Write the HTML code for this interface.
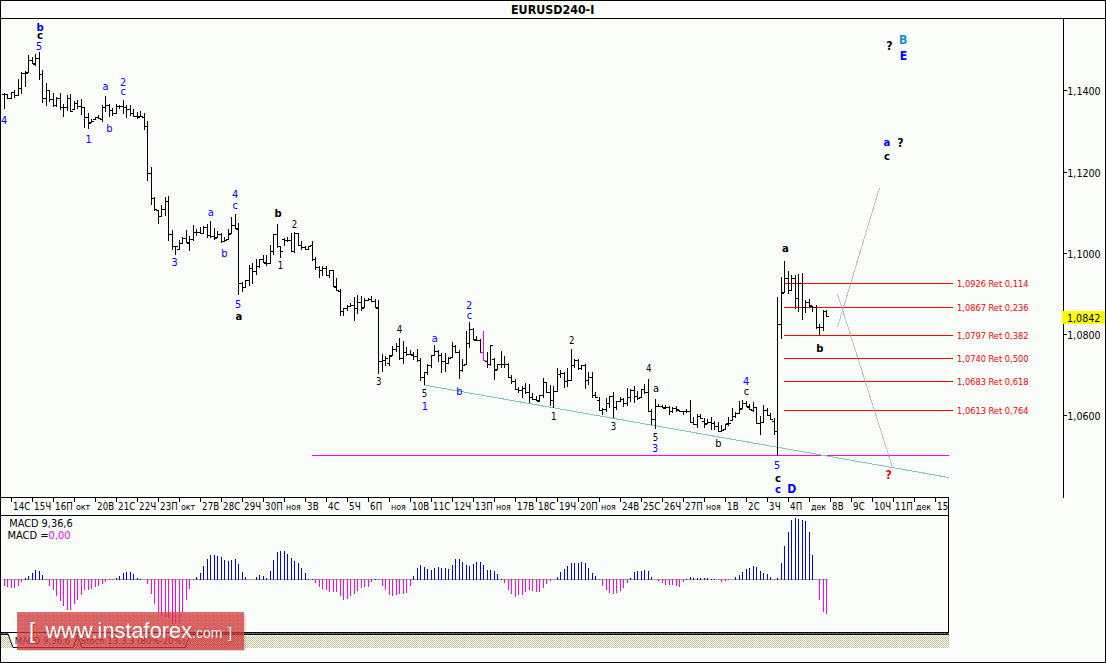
<!DOCTYPE html>
<html><head><meta charset="utf-8"><title>EURUSD240-I</title>
<style>
html,body{margin:0;padding:0;background:#fbfdfa;}
svg{display:block}
text{font-family:'DejaVu Sans Condensed','DejaVu Sans',sans-serif;}
.ax{font-size:10.6px;fill:#000}
.dt{font-size:9.6px;fill:#000;letter-spacing:0.15px}
.mo{font-size:8.8px;letter-spacing:0}
.fib{font-size:9.2px;fill:#ff0000}
.wr{font-size:11px;text-anchor:middle}
.wd{font-size:9.6px;text-anchor:middle}
.wdb{font-size:10.8px;text-anchor:middle}
.wb{font-size:11.2px;font-weight:bold;text-anchor:middle}
.wbc{font-size:12.2px;font-weight:bold;text-anchor:middle}
.title{font-size:12.35px;font-weight:bold;text-anchor:middle;fill:#000}
.mh{font-size:11px;fill:#000}
.tab{font-size:9.5px}
.tab2{font-size:9.5px}
.wm{font-family:'Liberation Sans',sans-serif;font-size:21.8px}
.wms{font-size:14px}
.wms2{font-family:'Liberation Sans',sans-serif;font-size:15px}
</style></head>
<body>
<svg width="1106" height="663" viewBox="0 0 1106 663" shape-rendering="crispEdges">
<defs>
<pattern id="hatch" x="0" y="0" width="6" height="6" patternUnits="userSpaceOnUse"><rect width="6" height="6" fill="#ffffff"/><rect x="0" y="0" width="1" height="1" fill="#bccb8c"/><rect x="2" y="0" width="1" height="1" fill="#bccb8c"/><rect x="4" y="0" width="1" height="1" fill="#bccb8c"/><rect x="1" y="1" width="1" height="1" fill="#bccb8c"/><rect x="3" y="1" width="1" height="1" fill="#d9a6a2"/><rect x="5" y="1" width="1" height="1" fill="#bccb8c"/><rect x="0" y="2" width="1" height="1" fill="#d9a6a2"/><rect x="2" y="2" width="1" height="1" fill="#bccb8c"/><rect x="4" y="2" width="1" height="1" fill="#bccb8c"/><rect x="1" y="3" width="1" height="1" fill="#bccb8c"/><rect x="3" y="3" width="1" height="1" fill="#bccb8c"/><rect x="5" y="3" width="1" height="1" fill="#bccb8c"/><rect x="0" y="4" width="1" height="1" fill="#bccb8c"/><rect x="2" y="4" width="1" height="1" fill="#bccb8c"/><rect x="4" y="4" width="1" height="1" fill="#d9a6a2"/><rect x="1" y="5" width="1" height="1" fill="#d9a6a2"/><rect x="3" y="5" width="1" height="1" fill="#bccb8c"/><rect x="5" y="5" width="1" height="1" fill="#bccb8c"/></pattern>
<pattern id="dotl" x="0" y="0" width="4" height="1" patternUnits="userSpaceOnUse">
<rect width="4" height="1" fill="#725572"/><rect x="0" width="1" height="1" fill="#5f9a5f"/>
</pattern>
<pattern id="dotz" x="0" y="0" width="2" height="1" patternUnits="userSpaceOnUse">
<rect width="1" height="1" fill="#b39a9a"/><rect x="1" width="1" height="1" fill="#9cb08c"/>
</pattern>
<pattern id="wmdots" x="17" y="612" width="4" height="4" patternUnits="userSpaceOnUse">
<rect x="2" y="2" width="1" height="1" fill="#ffffff" opacity="0.15"/>
</pattern>
</defs>
<rect x="0" y="0" width="1106" height="663" fill="#fbfdfa"/>
<rect x="1" y="1" width="1104" height="1" fill="#fff"/>
<rect x="1" y="1" width="1" height="661" fill="#fff"/>
<rect x="1104" y="1" width="1" height="661" fill="#fff"/>
<rect x="1" y="661" width="1104" height="1" fill="#fff"/>
<rect x="1" y="17" width="1104" height="1" fill="#fff"/>
<rect x="1" y="19" width="1104" height="1" fill="#fff"/>
<rect x="1062" y="19" width="1" height="479" fill="#fff"/>
<rect x="1064" y="19" width="1" height="479" fill="#fff"/>
<rect x="0" y="0" width="1106" height="1" fill="#000"/>
<rect x="0" y="662" width="1106" height="1" fill="#000"/>
<rect x="0" y="0" width="1" height="663" fill="#000"/>
<rect x="1105" y="0" width="1" height="663" fill="#000"/>
<rect x="0" y="18" width="1106" height="1" fill="#000"/>
<rect x="1063" y="18" width="1" height="480" fill="#000"/>
<rect x="1" y="496" width="948" height="1" fill="#fff"/>
<rect x="1" y="498" width="948" height="1" fill="#fff"/>
<rect x="1" y="497" width="948" height="1" fill="#000"/>
<rect x="11" y="498" width="1" height="4" fill="#000"/>
<rect x="32" y="498" width="1" height="4" fill="#000"/>
<rect x="53" y="498" width="1" height="4" fill="#000"/>
<rect x="74" y="498" width="1" height="4" fill="#000"/>
<rect x="95" y="498" width="1" height="4" fill="#000"/>
<rect x="116" y="498" width="1" height="4" fill="#000"/>
<rect x="137" y="498" width="1" height="4" fill="#000"/>
<rect x="158" y="498" width="1" height="4" fill="#000"/>
<rect x="179" y="498" width="1" height="4" fill="#000"/>
<rect x="200" y="498" width="1" height="4" fill="#000"/>
<rect x="221" y="498" width="1" height="4" fill="#000"/>
<rect x="242" y="498" width="1" height="4" fill="#000"/>
<rect x="263" y="498" width="1" height="4" fill="#000"/>
<rect x="284" y="498" width="1" height="4" fill="#000"/>
<rect x="305" y="498" width="1" height="4" fill="#000"/>
<rect x="326" y="498" width="1" height="4" fill="#000"/>
<rect x="347" y="498" width="1" height="4" fill="#000"/>
<rect x="368" y="498" width="1" height="4" fill="#000"/>
<rect x="389" y="498" width="1" height="4" fill="#000"/>
<rect x="410" y="498" width="1" height="4" fill="#000"/>
<rect x="431" y="498" width="1" height="4" fill="#000"/>
<rect x="452" y="498" width="1" height="4" fill="#000"/>
<rect x="473" y="498" width="1" height="4" fill="#000"/>
<rect x="494" y="498" width="1" height="4" fill="#000"/>
<rect x="515" y="498" width="1" height="4" fill="#000"/>
<rect x="536" y="498" width="1" height="4" fill="#000"/>
<rect x="557" y="498" width="1" height="4" fill="#000"/>
<rect x="578" y="498" width="1" height="4" fill="#000"/>
<rect x="599" y="498" width="1" height="4" fill="#000"/>
<rect x="620" y="498" width="1" height="4" fill="#000"/>
<rect x="641" y="498" width="1" height="4" fill="#000"/>
<rect x="662" y="498" width="1" height="4" fill="#000"/>
<rect x="683" y="498" width="1" height="4" fill="#000"/>
<rect x="704" y="498" width="1" height="4" fill="#000"/>
<rect x="725" y="498" width="1" height="4" fill="#000"/>
<rect x="746" y="498" width="1" height="4" fill="#000"/>
<rect x="767" y="498" width="1" height="4" fill="#000"/>
<rect x="788" y="498" width="1" height="4" fill="#000"/>
<rect x="809" y="498" width="1" height="4" fill="#000"/>
<rect x="830" y="498" width="1" height="4" fill="#000"/>
<rect x="851" y="498" width="1" height="4" fill="#000"/>
<rect x="872" y="498" width="1" height="4" fill="#000"/>
<rect x="893" y="498" width="1" height="4" fill="#000"/>
<rect x="914" y="498" width="1" height="4" fill="#000"/>
<rect x="935" y="498" width="1" height="4" fill="#000"/>
<rect x="1" y="514" width="948" height="1" fill="#fff"/>
<rect x="1" y="516" width="947" height="1" fill="#fff"/>
<rect x="947" y="516" width="1" height="116" fill="#fff"/>
<rect x="1" y="631" width="947" height="1" fill="#fff"/>
<rect x="1" y="515" width="948" height="1" fill="#000"/>
<rect x="948" y="497" width="1" height="19" fill="#000"/>
<rect x="948" y="515" width="1" height="120" fill="#000"/>
<rect x="1" y="632" width="948" height="1" fill="#000"/>
<rect x="1" y="633" width="948" height="1" fill="url(#dotl)"/>
<rect x="1" y="634" width="948" height="1" fill="#000"/>
<rect x="1" y="635" width="948" height="13" fill="url(#hatch)"/>
<rect x="1" y="635" width="947" height="1" fill="#fff" opacity="0.6"/>
<rect x="1064" y="90" width="3" height="1" fill="#000"/>
<text x="1067.3" y="94.5" class="ax">1,1400</text>
<rect x="1064" y="172" width="3" height="1" fill="#000"/>
<text x="1067.3" y="176.5" class="ax">1,1200</text>
<rect x="1064" y="253" width="3" height="1" fill="#000"/>
<text x="1067.3" y="257.5" class="ax">1,1000</text>
<rect x="1064" y="334" width="3" height="1" fill="#000"/>
<text x="1067.3" y="338.5" class="ax">1,0800</text>
<rect x="1064" y="415" width="3" height="1" fill="#000"/>
<text x="1067.3" y="419.5" class="ax">1,0600</text>
<rect x="1062" y="311" width="43" height="13" fill="#ffff00"/>
<text x="1067" y="321.7" class="ax">1,0842</text>
<svg x="0" y="0" width="948" height="515" overflow="hidden">
<text x="13" y="510" class="dt">14С</text>
<text x="34" y="510" class="dt">15Ч</text>
<text x="55" y="510" class="dt">16П</text>
<text x="76" y="510" class="dt mo">окт</text>
<text x="97" y="510" class="dt">20В</text>
<text x="118" y="510" class="dt">21С</text>
<text x="139" y="510" class="dt">22Ч</text>
<text x="160" y="510" class="dt">23П</text>
<text x="181" y="510" class="dt mo">окт</text>
<text x="202" y="510" class="dt">27В</text>
<text x="223" y="510" class="dt">28С</text>
<text x="244" y="510" class="dt">29Ч</text>
<text x="265" y="510" class="dt">30П</text>
<text x="286" y="510" class="dt mo">ноя</text>
<text x="307" y="510" class="dt">3В</text>
<text x="328" y="510" class="dt">4С</text>
<text x="349" y="510" class="dt">5Ч</text>
<text x="370" y="510" class="dt">6П</text>
<text x="391" y="510" class="dt mo">ноя</text>
<text x="412" y="510" class="dt">10В</text>
<text x="433" y="510" class="dt">11С</text>
<text x="454" y="510" class="dt">12Ч</text>
<text x="475" y="510" class="dt">13П</text>
<text x="496" y="510" class="dt mo">ноя</text>
<text x="517" y="510" class="dt">17В</text>
<text x="538" y="510" class="dt">18С</text>
<text x="559" y="510" class="dt">19Ч</text>
<text x="580" y="510" class="dt">20П</text>
<text x="601" y="510" class="dt mo">ноя</text>
<text x="622" y="510" class="dt">24В</text>
<text x="643" y="510" class="dt">25С</text>
<text x="664" y="510" class="dt">26Ч</text>
<text x="685" y="510" class="dt">27П</text>
<text x="706" y="510" class="dt mo">ноя</text>
<text x="727" y="510" class="dt">1В</text>
<text x="748" y="510" class="dt">2С</text>
<text x="769" y="510" class="dt">3Ч</text>
<text x="790" y="510" class="dt">4П</text>
<text x="811" y="510" class="dt mo">дек</text>
<text x="832" y="510" class="dt">8В</text>
<text x="853" y="510" class="dt">9С</text>
<text x="874" y="510" class="dt">10Ч</text>
<text x="895" y="510" class="dt">11П</text>
<text x="916" y="510" class="dt mo">дек</text>
<text x="937" y="510" class="dt">15В</text>
</svg>
<svg x="1" y="19" width="1062" height="478" viewBox="1 19 1062 478" overflow="hidden">
<rect x="312" y="455" width="637" height="1" fill="#ff00ff"/>
<line x1="424" y1="385" x2="949" y2="477.5" stroke="#80c8bc" stroke-width="1"/>
<rect x="784" y="283" width="169" height="1" fill="#ff0000"/>
<rect x="784" y="307" width="169" height="1" fill="#ff0000"/>
<rect x="784" y="335" width="169" height="1" fill="#ff0000"/>
<rect x="784" y="358" width="169" height="1" fill="#ff0000"/>
<rect x="784" y="381" width="169" height="1" fill="#ff0000"/>
<rect x="784" y="410" width="169" height="1" fill="#ff0000"/>
<line x1="837.5" y1="327" x2="879.5" y2="188" stroke="#c4bcc6" stroke-width="1"/>
<line x1="837.5" y1="294" x2="892.5" y2="467.5" stroke="#c4bcc6" stroke-width="1"/>
<path d="M4.5 93V109M2 94.5H4M5 94.5H7M7.5 94V99M5 94.5H7M8 98.5H10M11.5 92V99M9 98.5H11M12 92.5H14M14.5 90V98M12 92.5H14M15 95.5H17M18.5 79V96M16 95.5H18M19 88.5H21M21.5 72V94M19 88.5H21M22 73.5H24M25.5 71V87M23 73.5H25M26 73.5H28M28.5 55V73M26 72.5H28M29 60.5H31M32.5 57V64M30 60.5H32M33 63.5H35M35.5 54V66M33 64.5H35M36 58.5H38M39.5 52V80M37 58.5H39M40 74.5H42M42.5 70V103M40 74.5H42M43 98.5H45M46.5 83V106M44 98.5H46M47 90.5H49M49.5 90V102M47 90.5H49M50 99.5H52M53.5 93V107M51 99.5H53M54 105.5H56M56.5 97V107M54 105.5H56M57 98.5H59M60.5 93V110M58 98.5H60M61 107.5H63M63.5 104V117M61 107.5H63M64 107.5H66M67.5 95V111M65 107.5H67M68 98.5H70M70.5 94V112M68 98.5H70M71 111.5H73M74.5 101V110M72 109.5H74M75 103.5H77M77.5 100V109M75 103.5H77M78 106.5H80M81.5 99V115M79 106.5H81M82 107.5H84M84.5 107V128M82 107.5H84M85 117.5H87M88.5 113V129M86 117.5H88M89 123.5H91M91.5 119V123M89 122.5H91M92 121.5H94M95.5 117V120M93 119.5H95M96 117.5H98M98.5 115V119M96 117.5H98M99 118.5H101M102.5 105V122M100 119.5H102M103 107.5H105M105.5 96V112M103 107.5H105M106 105.5H108M109.5 104V117M107 105.5H109M110 110.5H112M112.5 108V116M110 110.5H112M113 113.5H115M116.5 104V114M114 113.5H116M117 106.5H119M119.5 105V109M117 106.5H119M120 106.5H122M123.5 100V114M121 106.5H123M124 107.5H126M126.5 105V118M124 107.5H126M127 109.5H129M130.5 105V116M128 109.5H130M131 113.5H133M133.5 109V117M131 113.5H133M134 116.5H136M137.5 112V119M135 116.5H137M138 117.5H140M140.5 111V117M138 116.5H140M141 116.5H143M144.5 113V130M142 117.5H144M145 126.5H147M147.5 121V181M145 126.5H147M148 173.5H150M151.5 167V205M149 173.5H151M152 198.5H154M154.5 197V211M152 198.5H154M155 209.5H157M158.5 210V224M156 210.5H158M159 216.5H161M161.5 205V217M159 216.5H161M162 209.5H164M165.5 197V216M163 209.5H165M166 201.5H168M168.5 196V241M166 201.5H168M169 234.5H171M172.5 230V250M170 234.5H172M173 246.5H175M175.5 246V255M173 246.5H175M176 246.5H178M179.5 240V250M177 249.5H179M180 243.5H182M182.5 237V244M180 243.5H182M183 238.5H185M186.5 230V243M184 238.5H186M187 242.5H189M189.5 236V251M187 243.5H189M190 239.5H192M193.5 225V241M191 239.5H193M194 232.5H196M196.5 229V236M194 232.5H196M197 232.5H199M200.5 227V234M198 232.5H200M201 233.5H203M203.5 226V234M201 233.5H203M204 227.5H206M207.5 224V238M205 227.5H207M208 235.5H210M210.5 221V238M208 235.5H210M211 236.5H213M214.5 228V240M212 236.5H214M215 238.5H217M217.5 231V238M215 237.5H217M218 234.5H220M221.5 233V243M219 234.5H221M222 241.5H224M224.5 237V242M222 241.5H224M225 240.5H227M228.5 229V240M226 239.5H228M229 234.5H231M231.5 217V234M229 233.5H231M232 225.5H234M235.5 214V229M233 225.5H235M236 228.5H238M238.5 223V295M236 229.5H238M239 283.5H241M242.5 282V292M240 283.5H242M243 287.5H245M245.5 280V288M243 287.5H245M246 280.5H248M249.5 265V286M247 280.5H249M250 268.5H252M252.5 263V284M250 268.5H252M253 271.5H255M256.5 259V275M254 271.5H256M257 266.5H259M259.5 259V268M257 266.5H259M260 259.5H262M263.5 255V263M261 259.5H263M264 262.5H266M266.5 255V266M264 263.5H266M267 263.5H269M270.5 245V264M268 263.5H270M271 251.5H273M273.5 234V255M271 251.5H273M274 234.5H276M277.5 224V248M275 234.5H277M278 246.5H280M280.5 246V258M278 246.5H280M281 251.5H283M284.5 238V246M282 239.5H284M285 240.5H287M287.5 237V242M285 240.5H287M288 240.5H290M291.5 233V252M289 240.5H291M292 251.5H294M294.5 232V253M292 251.5H294M295 233.5H297M298.5 233V246M296 233.5H298M299 245.5H301M301.5 241V250M299 245.5H301M302 247.5H304M305.5 246V250M303 247.5H305M306 249.5H308M308.5 246V250M306 249.5H308M309 246.5H311M312.5 241V261M310 245.5H312M313 259.5H315M315.5 257V270M313 259.5H315M316 267.5H318M319.5 266V278M317 267.5H319M320 270.5H322M322.5 266V276M320 270.5H322M323 268.5H325M326.5 266V276M324 268.5H326M327 275.5H329M329.5 270V278M327 275.5H329M330 270.5H332M333.5 270V287M331 270.5H333M334 286.5H336M336.5 278V291M334 287.5H336M337 290.5H339M340.5 289V316M338 291.5H340M341 311.5H343M343.5 308V316M341 311.5H343M344 308.5H346M347.5 305V311M345 308.5H347M348 306.5H350M350.5 303V307M348 306.5H350M351 305.5H353M354.5 297V321M352 305.5H354M355 308.5H357M357.5 295V314M355 308.5H357M358 302.5H360M361.5 296V311M359 302.5H361M362 308.5H364M364.5 298V308M362 307.5H364M365 300.5H367M368.5 298V301M366 300.5H368M369 299.5H371M371.5 296V302M369 299.5H371M372 301.5H374M375.5 299V308M373 301.5H375M376 307.5H378M378.5 300V374M376 308.5H378M379 361.5H381M382.5 354V372M380 361.5H382M383 360.5H385M385.5 356V366M383 360.5H385M386 358.5H388M389.5 355V366M387 363.5H389M390 356.5H392M392.5 346V356M390 355.5H392M393 349.5H395M396.5 343V352M394 349.5H396M397 346.5H399M399.5 338V360M397 346.5H399M400 358.5H402M403.5 341V364M401 358.5H403M404 352.5H406M406.5 347V356M404 352.5H406M407 354.5H409M410.5 350V355M408 354.5H410M411 354.5H413M413.5 352V360M411 355.5H413M414 356.5H416M417.5 349V362M415 356.5H417M418 360.5H420M420.5 358V381M418 360.5H420M421 377.5H423M424.5 372V385M422 377.5H424M425 372.5H427M427.5 364V375M425 372.5H427M428 365.5H430M431.5 355V368M429 365.5H431M432 355.5H434M434.5 345V356M432 355.5H434M435 351.5H437M438.5 350V362M436 351.5H438M439 355.5H441M441.5 353V373M439 355.5H441M442 361.5H444M445.5 353V372M443 361.5H445M446 363.5H448M448.5 357V364M446 363.5H448M449 358.5H451M452.5 342V358M450 357.5H452M453 346.5H455M455.5 345V353M453 346.5H455M456 352.5H458M459.5 350V379M457 352.5H459M460 370.5H462M462.5 359V372M460 370.5H462M463 365.5H465M466.5 331V365M464 364.5H466M467 343.5H469M469.5 322V348M467 343.5H469M470 329.5H472M473.5 328V340M471 329.5H473M474 339.5H476M476.5 336V341M474 340.5H476M477 340.5H479M480.5 339V353M478 340.5H480M481 352.5H483M487.5 352V368M485 361.5H487M488 364.5H490M490.5 345V366M488 364.5H490M491 345.5H493M494.5 358V380M492 359.5H494M495 370.5H497M497.5 364V370M495 369.5H497M498 364.5H500M501.5 351V368M499 364.5H501M502 364.5H504M504.5 356V368M502 364.5H504M505 364.5H507M508.5 363V378M506 364.5H508M509 377.5H511M511.5 375V384M509 377.5H511M512 381.5H514M515.5 379V390M513 381.5H515M516 389.5H518M518.5 387V393M516 389.5H518M519 390.5H521M522.5 386V398M520 390.5H522M523 388.5H525M525.5 383V394M523 388.5H525M526 392.5H528M529.5 384V403M527 392.5H529M530 397.5H532M532.5 393V400M530 397.5H532M533 399.5H535M536.5 396V401M534 399.5H536M537 400.5H539M539.5 395V402M537 401.5H539M540 395.5H542M543.5 378V398M541 395.5H543M544 382.5H546M546.5 382V393M544 382.5H546M547 392.5H549M550.5 385V406M548 392.5H550M551 400.5H553M553.5 386V408M551 400.5H553M554 391.5H556M557.5 368V392M555 391.5H557M558 374.5H560M560.5 370V378M558 374.5H560M561 373.5H563M564.5 372V388M562 373.5H564M565 381.5H567M567.5 368V387M565 381.5H567M568 380.5H570M571.5 349V381M569 380.5H571M572 365.5H574M574.5 359V368M572 365.5H574M575 360.5H577M578.5 359V370M576 360.5H578M579 368.5H581M581.5 365V370M579 368.5H581M582 365.5H584M585.5 364V389M583 365.5H585M586 380.5H588M588.5 372V385M586 380.5H588M589 377.5H591M592.5 372V398M590 377.5H592M593 395.5H595M595.5 392V398M593 395.5H595M596 397.5H598M599.5 397V411M597 400.5H599M600 410.5H602M602.5 408V415M600 410.5H602M603 409.5H605M606.5 398V412M604 409.5H606M607 403.5H609M609.5 396V408M607 403.5H609M610 396.5H612M613.5 392V418M611 396.5H613M614 407.5H616M616.5 401V410M614 407.5H616M617 401.5H619M620.5 397V402M618 401.5H620M621 399.5H623M623.5 398V407M621 399.5H623M624 403.5H626M627.5 388V406M625 403.5H627M628 397.5H630M630.5 389V402M628 397.5H630M631 390.5H633M634.5 386V403M632 390.5H634M635 396.5H637M637.5 391V400M635 396.5H637M638 398.5H640M641.5 389V398M639 397.5H641M642 389.5H644M644.5 384V394M642 389.5H644M645 392.5H647M648.5 379V412M646 392.5H648M649 411.5H651M651.5 409V425M649 411.5H651M652 419.5H654M655.5 399V429M653 419.5H655M656 406.5H658M658.5 404V407M656 406.5H658M659 406.5H661M662.5 405V408M660 406.5H662M663 407.5H665M665.5 405V409M663 408.5H665M666 407.5H668M669.5 406V415M667 407.5H669M670 411.5H672M672.5 407V413M670 411.5H672M673 408.5H675M676.5 406V412M674 408.5H676M677 409.5H679M679.5 410V412M677 410.5H679M680 411.5H682M683.5 411V415M681 411.5H683M684 411.5H686M686.5 409V413M684 411.5H686M687 411.5H689M690.5 400V423M688 411.5H690M691 422.5H693M693.5 417V425M691 422.5H693M694 424.5H696M697.5 414V428M695 424.5H697M698 416.5H700M700.5 414V419M698 416.5H700M701 418.5H703M704.5 418V428M702 421.5H704M705 424.5H707M707.5 419V424M705 423.5H707M708 422.5H710M711.5 417V430M709 422.5H711M712 423.5H714M714.5 421V430M712 423.5H714M715 426.5H717M718.5 422V432M716 426.5H718M719 431.5H721M721.5 425V432M719 431.5H721M722 430.5H724M725.5 424V430M723 429.5H725M726 424.5H728M728.5 417V426M726 423.5H728M729 423.5H731M732.5 408V421M730 420.5H732M733 416.5H735M735.5 412V418M733 416.5H735M736 413.5H738M739.5 401V414M737 413.5H739M740 409.5H742M742.5 400V409M740 408.5H742M743 403.5H745M746.5 401V407M744 403.5H746M747 406.5H749M749.5 404V410M747 407.5H749M750 409.5H752M753.5 402V412M751 410.5H753M754 407.5H756M756.5 407V424M754 407.5H756M757 423.5H759M760.5 416V435M758 423.5H760M761 422.5H763M763.5 405V423M761 422.5H763M764 410.5H766M767.5 408V416M765 410.5H767M768 415.5H770M770.5 413V420M768 415.5H770M771 419.5H773M774.5 418V435M772 421.5H774M775 431.5H777M777.5 297V456M775 431.5H777M778 324.5H780M781.5 277V339M779 324.5H781M782 293.5H784M784.5 261V293M782 292.5H784M785 278.5H787M788.5 271V294M786 278.5H788M789 290.5H791M791.5 275V291M789 290.5H791M792 278.5H794M795.5 275V309M793 278.5H795M796 298.5H798M798.5 274V312M796 298.5H798M799 283.5H801M802.5 273V320M800 283.5H802M803 307.5H805M805.5 300V313M803 307.5H805M806 302.5H808M809.5 299V308M807 302.5H809M810 305.5H812M812.5 306V312M810 306.5H812M813 307.5H815M816.5 305V329M814 307.5H816M817 327.5H819M819.5 324V336M817 327.5H819M820 327.5H822M823.5 310V331M821 327.5H823M824 311.5H826M826.5 310V317M824 311.5H826M827 316.5H829" stroke="#000" stroke-width="1" fill="none"/>
<path d="M483.5 331V361M481 352.5H483M484 360.5H486" stroke="#ff00ff" stroke-width="1" fill="none"/>
</svg>
<text x="957" y="287" class="fib">1,0926 Ret 0,114</text>
<text x="957" y="311" class="fib">1,0867 Ret 0,236</text>
<text x="957" y="339" class="fib">1,0797 Ret 0,382</text>
<text x="957" y="362" class="fib">1,0740 Ret 0,500</text>
<text x="957" y="385" class="fib">1,0683 Ret 0,618</text>
<text x="957" y="414" class="fib">1,0613 Ret 0,764</text>
<text x="40.0" y="31" class="wb" fill="#0000ff">b</text>
<text x="40.0" y="38.8" class="wb" fill="#000">c</text>
<text x="39.0" y="50" class="wdb" fill="#0000ff">5</text>
<text x="4.1" y="124" class="wdb" fill="#0000ff">4</text>
<text x="105.5" y="90" class="wr" fill="#0000ff">a</text>
<text x="123" y="86" class="wdb" fill="#0000ff">2</text>
<text x="123.2" y="94.7" class="wr" fill="#0000ff">c</text>
<text x="88.5" y="143" class="wdb" fill="#0000ff">1</text>
<text x="109.5" y="131.8" class="wr" fill="#0000ff">b</text>
<text x="174.7" y="266" class="wdb" fill="#0000ff">3</text>
<text x="210.8" y="216.2" class="wr" fill="#0000ff">a</text>
<text x="235" y="197.6" class="wdb" fill="#0000ff">4</text>
<text x="235.3" y="209" class="wr" fill="#0000ff">c</text>
<text x="224.5" y="256.9" class="wr" fill="#0000ff">b</text>
<text x="238" y="307.8" class="wdb" fill="#0000ff">5</text>
<text x="238.8" y="319.8" class="wb" fill="#000">a</text>
<text x="278" y="216.6" class="wb" fill="#000">b</text>
<text x="294.6" y="228" class="wd" fill="#000">2</text>
<text x="280.6" y="268.8" class="wd" fill="#000">1</text>
<text x="378.8" y="385" class="wd" fill="#000">3</text>
<text x="399.5" y="333" class="wd" fill="#000">4</text>
<text x="434.7" y="342.4" class="wr" fill="#0000ff">a</text>
<text x="424.6" y="397.2" class="wd" fill="#000">5</text>
<text x="424.8" y="410" class="wdb" fill="#0000ff">1</text>
<text x="459.4" y="394.9" class="wr" fill="#0000ff">b</text>
<text x="469" y="309.1" class="wdb" fill="#0000ff">2</text>
<text x="469.5" y="318.9" class="wr" fill="#0000ff">c</text>
<text x="571.7" y="344.1" class="wd" fill="#000">2</text>
<text x="553.8" y="420.2" class="wd" fill="#000">1</text>
<text x="613.5" y="430" class="wd" fill="#000">3</text>
<text x="648.7" y="372.2" class="wd" fill="#000">4</text>
<text x="656" y="392.4" class="wr" fill="#000">a</text>
<text x="655.4" y="441.4" class="wd" fill="#000">5</text>
<text x="655.1" y="451.6" class="wdb" fill="#0000ff">3</text>
<text x="718.5" y="446.7" class="wr" fill="#000">b</text>
<text x="746" y="384.7" class="wdb" fill="#0000ff">4</text>
<text x="746.4" y="394.7" class="wr" fill="#000">c</text>
<text x="777.2" y="468.8" class="wdb" fill="#0000ff">5</text>
<text x="777.9" y="482" class="wb" fill="#000">c</text>
<text x="777.9" y="492.9" class="wb" fill="#0000ff">c</text>
<text x="791.9" y="492.9" class="wbc" fill="#0000ff">D</text>
<text x="785.3" y="252" class="wb" fill="#000">a</text>
<text x="819.9" y="351.6" class="wb" fill="#000">b</text>
<text x="889.5" y="49.7" class="wbc" fill="#000">?</text>
<text x="903.3" y="43.7" class="wbc" fill="#1a8cc8">B</text>
<text x="903.6" y="59.9" class="wbc" fill="#0000ff">E</text>
<text x="887" y="145.7" class="wb" fill="#0000ff">a</text>
<text x="900.5" y="146.8" class="wbc" fill="#000">?</text>
<text x="887" y="159.9" class="wb" fill="#000">c</text>
<text x="888.7" y="479" class="wbc" fill="#ff0000">?</text>
<text x="552.7" y="14" class="title">EURUSD240-I</text>
<svg x="1" y="516" width="947" height="116" viewBox="1 516 947 116" overflow="hidden">
<rect x="3" y="579" width="825" height="1" fill="url(#dotz)"/>
<path d="M25.5 578V580M28.5 576V580M32.5 573V580M35.5 570V580M39.5 571V580M42.5 575V580M116.5 578V580M119.5 576V580M123.5 573V580M126.5 572V580M130.5 572V580M133.5 574V580M137.5 578V580M140.5 579V580M196.5 577V580M200.5 573V580M203.5 566V580M207.5 559V580M210.5 555V580M214.5 555V580M217.5 556V580M221.5 557V580M224.5 560V580M228.5 561V580M231.5 560V580M235.5 559V580M238.5 564V580M242.5 572V580M245.5 577V580M256.5 577V580M259.5 575V580M263.5 576V580M266.5 578V580M270.5 571V580M273.5 560V580M277.5 552V580M280.5 551V580M284.5 551V580M287.5 554V580M291.5 558V580M294.5 561V580M298.5 563V580M301.5 568V580M305.5 573V580M308.5 579V580M312.5 579V580M375.5 579V580M413.5 576V580M417.5 568V580M420.5 565V580M424.5 567V580M427.5 569V580M431.5 570V580M434.5 568V580M438.5 567V580M441.5 568V580M445.5 568V580M448.5 569V580M452.5 565V580M455.5 559V580M459.5 559V580M462.5 562V580M466.5 565V580M469.5 566V580M473.5 564V580M476.5 562V580M480.5 562V580M483.5 565V580M487.5 570V580M490.5 570V580M494.5 571V580M497.5 574V580M501.5 579V580M557.5 577V580M560.5 572V580M564.5 569V580M567.5 566V580M571.5 563V580M574.5 563V580M578.5 563V580M581.5 562V580M585.5 563V580M588.5 568V580M592.5 573V580M595.5 576V580M630.5 578V580M634.5 572V580M637.5 571V580M641.5 571V580M644.5 570V580M648.5 571V580M651.5 577V580M686.5 579V580M690.5 577V580M693.5 578V580M697.5 578V580M700.5 578V580M704.5 578V580M707.5 578V580M711.5 579V580M714.5 579V580M735.5 577V580M739.5 575V580M742.5 572V580M746.5 569V580M749.5 568V580M753.5 566V580M756.5 567V580M760.5 571V580M763.5 573V580M767.5 574V580M770.5 577V580M777.5 578V580M781.5 563V580M784.5 546V580M788.5 532V580M791.5 520V580M795.5 518V580M798.5 519V580M802.5 520V580M805.5 521V580M809.5 532V580M812.5 555V580" stroke="#0000ff" stroke-width="1" fill="none"/>
<path d="M4.5 579V586M7.5 579V587M11.5 579V588M14.5 579V588M18.5 579V586M21.5 579V582M46.5 579V580M49.5 579V586M53.5 579V590M56.5 579V596M60.5 579V601M63.5 579V606M67.5 579V610M70.5 579V610M74.5 579V604M77.5 579V600M81.5 579V595M84.5 579V590M88.5 579V590M91.5 579V589M95.5 579V587M98.5 579V586M102.5 579V584M105.5 579V582M109.5 579V580M112.5 579V580M147.5 579V584M151.5 579V594M154.5 579V604M158.5 579V612M161.5 579V616M165.5 579V617M168.5 579V618M172.5 579V624M175.5 579V624M179.5 579V624M182.5 579V612M186.5 579V600M189.5 579V589M193.5 579V580M315.5 579V583M319.5 579V587M322.5 579V589M326.5 579V590M329.5 579V592M333.5 579V592M336.5 579V592M340.5 579V596M343.5 579V600M347.5 579V599M350.5 579V596M354.5 579V594M357.5 579V591M361.5 579V588M364.5 579V587M368.5 579V587M371.5 579V582M378.5 579V580M382.5 579V586M385.5 579V590M389.5 579V595M392.5 579V596M396.5 579V595M399.5 579V594M403.5 579V594M406.5 579V593M410.5 579V586M504.5 579V583M508.5 579V590M511.5 579V594M515.5 579V597M518.5 579V595M522.5 579V595M525.5 579V592M529.5 579V590M532.5 579V591M536.5 579V592M539.5 579V592M543.5 579V588M546.5 579V584M550.5 579V581M599.5 579V580M602.5 579V586M606.5 579V590M609.5 579V593M613.5 579V594M616.5 579V593M620.5 579V591M623.5 579V588M627.5 579V583M658.5 579V581M662.5 579V583M665.5 579V585M669.5 579V585M672.5 579V585M676.5 579V586M679.5 579V587M683.5 579V582M718.5 579V580M721.5 579V582M725.5 579V581M728.5 579V580M774.5 579V580M819.5 579V600M823.5 579V612M826.5 579V614" stroke="#ff00ff" stroke-width="1" fill="none"/>
</svg>
<text x="9.3" y="527" class="mh" style="font-size:10.85px">MACD 9,36,6</text>
<text x="7.5" y="539" class="mh">MACD =<tspan fill="#ff00ff">0,00</tspan></text>
<path d="M77 633 L82.2 647.5 L185 647.5 L190.3 633 Z" fill="#fff" stroke="none"/>
<path d="M77 634 L82 647.5 L185 647.5 L190.5 634" fill="none" stroke="#000" stroke-width="1" shape-rendering="auto"/>
<path d="M7.6 633 L13 647.5 L73 647.5 L78.4 633 Z" fill="#fff" stroke="none"/>
<path d="M8 634 L13 647.5 L73 647.5 L78 634" fill="none" stroke="#000" stroke-width="1" shape-rendering="auto"/>
<text x="14.8" y="644" class="tab" fill="#000060">MACD 9,36,6</text>
<text x="80.5" y="644" class="tab2" fill="#000">Stoch 13,3,3 (80%-20%)</text>
<rect x="18" y="614" width="228" height="37" fill="#000" opacity="0.12"/>
<rect x="17" y="612" width="227" height="37.5" fill="#d83c3c" opacity="0.76"/>
<rect x="17" y="612" width="227" height="37.5" fill="url(#wmdots)"/>
<g transform="translate(0.8,0.8)" fill="#7a1c1c" opacity="0.45">
<text x="29" y="638" class="wm">[</text>
<text x="45.5" y="637.5" class="wm">www.instaforex<tspan class="wms">.com</tspan></text>
<text x="228" y="638" class="wms2">]</text>
</g>
<g transform="translate(0,0)" fill="#ffffff" opacity="1">
<text x="29" y="638" class="wm">[</text>
<text x="45.5" y="637.5" class="wm">www.instaforex<tspan class="wms">.com</tspan></text>
<text x="228" y="638" class="wms2">]</text>
</g>
</svg>
</body></html>
